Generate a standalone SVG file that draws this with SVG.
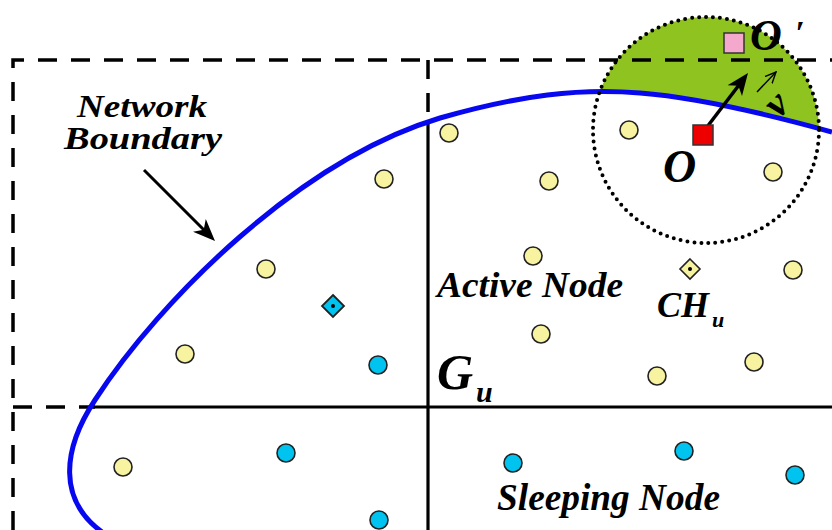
<svg xmlns="http://www.w3.org/2000/svg" width="832" height="530" viewBox="0 0 832 530">
<style>
.dash{stroke:#000;stroke-width:3.5;fill:none;stroke-dasharray:19 14}
.solid{stroke:#000;stroke-width:3.2;fill:none}
.act{fill:#f8f3a0;stroke:#222;stroke-width:1.6}
.slp{fill:#00c4ef;stroke:#222;stroke-width:1.6}
.head{fill:#000;stroke:none}
.t{font-family:"Liberation Serif","Times New Roman",serif;font-weight:bold;font-style:italic;fill:#000}
</style>
<defs>
<clipPath id="cc"><circle cx="706" cy="130" r="113"/></clipPath>
<marker id="ah2" viewBox="0 0 12 12" refX="11" refY="6" markerWidth="12" markerHeight="12" orient="auto" markerUnits="userSpaceOnUse">
<path d="M0,1 L11,6 L0,11" fill="none" stroke="#000" stroke-width="1.4"/>
</marker>
</defs>
<rect width="832" height="530" fill="#fff"/>
<g id="coverage">
<path d="M440 118 C520 95 580 88 640 93 C690 97 760 112 832 132 L832 0 L440 0 Z" fill="#8fc31f" clip-path="url(#cc)"/>
</g>
<g id="connectors">
<path class="dash" d="M13 530 L13 60 L832 60"/>
<path class="dash" d="M428 60 L428 122"/>
<path class="dash" d="M13 407 L95 407"/>
<path class="solid" d="M428 122 L428 530"/>
<path class="solid" d="M93 407 L832 407"/>
<path d="M102 532 C58 500 62 450 95 400 C160 300 300 160 440 118 C520 95 580 88 640 93 C690 97 760 112 832 132" fill="none" stroke="#0808f0" stroke-width="5"/>
<circle cx="706" cy="130" r="113" fill="none" stroke="#000" stroke-width="4" stroke-linecap="round" stroke-dasharray="0 7"/>
<line x1="144" y1="170" x2="204" y2="230" stroke="#000" stroke-width="3"/>
<path class="head" d="M215 241 L193 231.8 L203.7 229.7 L205.8 219 Z"/>
<line x1="707" y1="127" x2="739" y2="85" stroke="#000" stroke-width="3.5"/>
<path class="head" d="M748 73 L742 96 L738.4 85.8 L727.6 85.2 Z"/>
<line x1="757" y1="92" x2="776" y2="72" stroke="#000" stroke-width="1.4" marker-end="url(#ah2)"/>
</g>
<g id="active-nodes">
<circle class="act" cx="449" cy="133" r="9"/>
<circle class="act" cx="384" cy="179" r="9"/>
<circle class="act" cx="549" cy="181" r="9"/>
<circle class="act" cx="629" cy="130" r="9"/>
<circle class="act" cx="773" cy="172" r="9"/>
<circle class="act" cx="266" cy="269" r="9"/>
<circle class="act" cx="533" cy="256" r="9"/>
<circle class="act" cx="793" cy="270" r="9"/>
<circle class="act" cx="541" cy="334" r="9"/>
<circle class="act" cx="185" cy="354" r="9"/>
<circle class="act" cx="754" cy="362" r="9"/>
<circle class="act" cx="657" cy="376" r="9"/>
<circle class="act" cx="123" cy="467" r="9"/>
</g>
<g id="sleeping-nodes">
<circle class="slp" cx="378" cy="365" r="9"/>
<circle class="slp" cx="286" cy="453" r="9"/>
<circle class="slp" cx="513" cy="463" r="9"/>
<circle class="slp" cx="684" cy="451" r="9"/>
<circle class="slp" cx="795" cy="475" r="9"/>
<circle class="slp" cx="379" cy="520" r="9"/>
</g>
<g id="ch-u">
<path d="M690 259 L700 269 L690 279 L680 269 Z" fill="#f8f3a0" stroke="#222" stroke-width="1.6"/>
<circle cx="690" cy="269" r="2" fill="#000"/>
</g>
<g id="ch-other">
<path d="M333 295 L344 306 L333 317 L322 306 Z" fill="#00c4ef" stroke="#222" stroke-width="1.8"/>
<circle cx="333" cy="306" r="2" fill="#000"/>
</g>
<g id="point-o">
<rect x="693" y="125" width="20" height="20" fill="#ee0000" stroke="#333" stroke-width="1.5"/>
</g>
<g id="point-o-prime">
<rect x="724" y="33" width="20" height="20" fill="#f4a8cc" stroke="#333" stroke-width="1.5"/>
</g>
<g id="labels">
<text class="t" x="142" y="117" font-size="31" text-anchor="middle" textLength="130" lengthAdjust="spacingAndGlyphs">Network</text>
<text class="t" x="143" y="149" font-size="31" text-anchor="middle" textLength="158" lengthAdjust="spacingAndGlyphs">Boundary</text>
<text class="t" x="437" y="297" font-size="36" textLength="186" lengthAdjust="spacingAndGlyphs">Active Node</text>
<text class="t" x="497" y="510" font-size="37" textLength="223" lengthAdjust="spacingAndGlyphs">Sleeping Node</text>
<text class="t" x="437" y="389" font-size="50">G</text>
<text class="t" x="476" y="402" font-size="30">u</text>
<text class="t" x="657" y="317" font-size="36">CH</text>
<text class="t" x="712" y="327" font-size="22">u</text>
<text class="t" x="750" y="50" font-size="44">O</text>
<text class="t" x="795" y="44" font-size="34">′</text>
<text class="t" x="663" y="182" font-size="46">O</text>
<text class="t" x="0" y="0" font-size="40" transform="translate(785 113) rotate(-45)" text-anchor="middle">v</text>
</g>
</svg>
